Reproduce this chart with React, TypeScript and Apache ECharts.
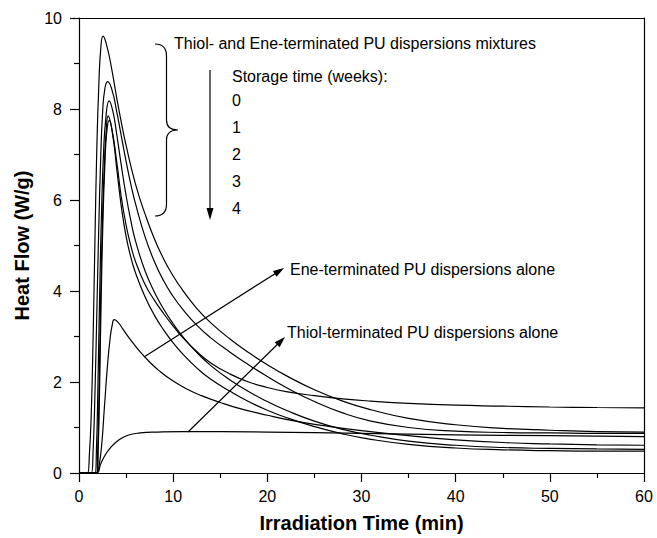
import React, { useEffect, useRef } from "react";
import * as echarts from "echarts";

// Week 0 mixture
const w0X = [0, 0.9, 1.1, 1.3, 1.5, 1.7, 1.9, 2.1, 2.3, 2.55, 3.0, 3.5, 4.0, 4.5, 5.0, 6.0, 7.0, 8.0, 9.0, 10, 11, 12.5, 14, 16, 18, 20, 22, 25, 28, 31, 35, 40, 45, 50, 55, 60];
const w0Y = [0, 0, 0.4, 1.3, 3.0, 5.2, 7.2, 8.5, 9.3, 9.6, 9.35, 8.85, 8.25, 7.7, 7.2, 6.35, 5.7, 5.15, 4.7, 4.33, 4.02, 3.62, 3.3, 2.95, 2.65, 2.38, 2.14, 1.83, 1.58, 1.39, 1.2, 1.06, 0.98, 0.94, 0.91, 0.9];
// Week 1 mixture
const w1X = [0, 1.3, 1.5, 1.7, 1.9, 2.1, 2.3, 2.5, 2.75, 3.05, 3.5, 4.0, 4.5, 5.0, 5.5, 6.0, 7.0, 8.0, 9.0, 10, 11, 12.5, 14, 16, 18, 20, 22, 25, 28, 31, 35, 40, 45, 50, 55, 60];
const w1Y = [0, 0, 0.5, 1.8, 3.6, 5.4, 6.9, 7.9, 8.45, 8.6, 8.42, 7.95, 7.4, 6.85, 6.35, 5.92, 5.2, 4.65, 4.22, 3.88, 3.6, 3.25, 2.97, 2.66, 2.38, 2.12, 1.88, 1.57, 1.32, 1.14, 1.0, 0.92, 0.89, 0.88, 0.87, 0.87];
// Week 2 mixture
const w2X = [0, 1.7, 1.85, 2.0, 2.2, 2.4, 2.6, 2.85, 3.2, 3.6, 4.0, 4.5, 5.0, 5.5, 6.0, 7.0, 8.0, 9.0, 10, 11, 12.5, 14, 16, 18, 20, 22, 25, 28, 31, 35, 40, 45, 50, 55, 60];
const w2Y = [0, 0, 0.5, 1.8, 4.0, 5.8, 7.0, 7.8, 8.18, 7.95, 7.45, 6.75, 6.1, 5.55, 5.1, 4.45, 3.98, 3.6, 3.28, 3.0, 2.65, 2.36, 2.05, 1.79, 1.57, 1.38, 1.14, 0.96, 0.83, 0.7, 0.61, 0.56, 0.54, 0.53, 0.52];
// Week 3 mixture
const w3X = [0, 1.85, 2.0, 2.15, 2.3, 2.5, 2.7, 2.9, 3.1, 3.5, 4.0, 4.5, 5.0, 5.5, 6.0, 7.0, 8.0, 9.0, 10, 11, 12.5, 14, 16, 18, 20, 22, 25, 28, 31, 35, 40, 45, 50, 55, 60];
const w3Y = [0, 0, 0.6, 2.0, 3.8, 5.6, 6.8, 7.55, 7.85, 7.55, 6.85, 6.05, 5.45, 5.0, 4.65, 4.15, 3.8, 3.5, 3.23, 2.98, 2.67, 2.42, 2.18, 2.0, 1.88, 1.79, 1.7, 1.63, 1.58, 1.53, 1.49, 1.47, 1.45, 1.44, 1.43];
// Week 4 mixture
const w4X = [0, 1.9, 2.05, 2.2, 2.35, 2.55, 2.75, 2.95, 3.2, 3.6, 4.0, 4.5, 5.0, 5.5, 6.0, 7.0, 8.0, 9.0, 10, 11, 12.5, 14, 16, 18, 20, 22, 25, 28, 31, 35, 40, 45, 50, 55, 60];
const w4Y = [0, 0, 0.6, 2.0, 3.8, 5.6, 6.8, 7.5, 7.75, 7.4, 6.7, 5.85, 5.2, 4.75, 4.4, 3.88, 3.47, 3.14, 2.86, 2.62, 2.31, 2.06, 1.8, 1.57, 1.38, 1.22, 1.02, 0.86, 0.74, 0.63, 0.55, 0.51, 0.49, 0.48, 0.48];
// Ene-terminated alone
const eneX = [0, 1.9, 2.1, 2.4, 2.7, 3.0, 3.3, 3.55, 3.75, 4.2, 4.7, 5.5, 6.5, 7.5, 8.5, 10, 11.5, 13, 15, 17, 20, 23, 26, 30, 35, 40, 45, 50, 55, 60];
const eneY = [0, 0, 0.12, 0.6, 1.45, 2.3, 2.95, 3.28, 3.37, 3.3, 3.15, 2.92, 2.66, 2.44, 2.25, 2.02, 1.84, 1.7, 1.55, 1.42, 1.27, 1.14, 1.04, 0.93, 0.82, 0.73, 0.67, 0.64, 0.62, 0.61];
// Thiol-terminated alone
const thiolX = [0, 1.84, 2.3, 2.8, 3.4, 4.2, 5.2, 6.5, 8.4, 11, 15, 20, 30, 40, 50, 60];
const thiolY = [0, 0, 0.2, 0.4, 0.57, 0.72, 0.83, 0.88, 0.9, 0.91, 0.91, 0.9, 0.87, 0.84, 0.82, 0.8];

const storageLabels = ["0", "1", "2", "3", "4"];

const FONT = "Liberation Sans";

echarts.graphic.registerShape(
  "brace",
  echarts.graphic.extendPath(
    "M155 44 Q166.5 44 166.5 56 L166.5 120 Q166.5 130 178 130 Q166.5 130 166.5 140 L166.5 204 Q166.5 216 155 216",
    {}
  )
);

function zip(xs: number[], ys: number[]) {
  return xs.map((x, i) => [x, ys[i]]);
}

function arrow(x1: number, y1: number, x2: number, y2: number, len = 11, half = 3.5) {
  const dx = x2 - x1;
  const dy = y2 - y1;
  const L = Math.sqrt(dx * dx + dy * dy);
  const ux = dx / L;
  const uy = dy / L;
  const bx = x2 - ux * len;
  const by = y2 - uy * len;
  const nx = -uy;
  const ny = ux;
  return [
    {
      type: "line",
      shape: { x1, y1, x2: x2 - ux * 4, y2: y2 - uy * 4 },
      style: { stroke: "#000", lineWidth: 1.2 },
    },
    {
      type: "polygon",
      shape: {
        points: [
          [x2, y2],
          [bx + nx * half, by + ny * half],
          [bx - nx * half, by - ny * half],
        ],
      },
      style: { fill: "#000" },
    },
  ];
}

export default function App() {
  const ref = useRef<HTMLDivElement>(null);
  useEffect(() => {
    if (!ref.current) return;
    const chart = echarts.init(ref.current, undefined, { renderer: "svg" });
    const mk = (name: string, xs: number[], ys: number[]) => ({
      name,
      type: "line",
      data: zip(xs, ys),
      smooth: 0.5,
      showSymbol: false,
      symbol: "none",
      clip: true,
      lineStyle: { color: "#000", width: 1.2 },
      xAxisIndex: 0,
      yAxisIndex: 0,
    });
    const txt = (text: string, x: number, y: number) => ({
      type: "text",
      x,
      y,
      style: {
        text,
        fontSize: 16,
        fontFamily: FONT,
        fill: "#000",
        verticalAlign: "middle",
        align: "left",
      },
    });
    const storageTexts = storageLabels.map((s, i) => txt(s, 232, 100 + i * 27));
    chart.setOption({
      animation: false,
      backgroundColor: "#fff",
      grid: { left: 79, right: 13, top: 18, bottom: 65 },
      xAxis: [
        {
          type: "value",
          min: 0,
          max: 60,
          interval: 10,
          position: "bottom",
          name: "Irradiation Time (min)",
          nameLocation: "middle",
          nameGap: 40,
          nameTextStyle: { fontSize: 20, fontWeight: "bold", fontFamily: FONT, color: "#000" },
          axisLine: { show: true, onZero: false, lineStyle: { color: "#000", width: 1.2 } },
          axisTick: { show: true, inside: false, length: 9, lineStyle: { color: "#000", width: 1.2 } },
          minorTick: { show: true, splitNumber: 2, length: 5, lineStyle: { color: "#000", width: 1.2 } },
          axisLabel: { fontSize: 16, fontFamily: FONT, color: "#000", margin: 15 },
          splitLine: { show: false },
        },
        {
          type: "value",
          min: 0,
          max: 60,
          position: "top",
          axisLine: { show: true, onZero: false, lineStyle: { color: "#000", width: 1.2 } },
          axisTick: { show: false },
          axisLabel: { show: false },
          splitLine: { show: false },
        },
      ],
      yAxis: [
        {
          type: "value",
          min: 0,
          max: 10,
          interval: 2,
          position: "left",
          name: "Heat Flow (W/g)",
          nameLocation: "middle",
          nameGap: 47,
          nameTextStyle: { fontSize: 20, fontWeight: "bold", fontFamily: FONT, color: "#000" },
          axisLine: { show: true, onZero: false, lineStyle: { color: "#000", width: 1.2 } },
          axisTick: { show: true, inside: false, length: 9, lineStyle: { color: "#000", width: 1.2 } },
          minorTick: { show: true, splitNumber: 2, length: 5, lineStyle: { color: "#000", width: 1.2 } },
          axisLabel: { fontSize: 16, fontFamily: FONT, color: "#000", margin: 17 },
          splitLine: { show: false },
        },
        {
          type: "value",
          min: 0,
          max: 10,
          position: "right",
          axisLine: { show: true, onZero: false, lineStyle: { color: "#000", width: 1.2 } },
          axisTick: { show: false },
          axisLabel: { show: false },
          splitLine: { show: false },
        },
      ],
      series: [
        mk("Week 0", w0X, w0Y),
        mk("Week 1", w1X, w1Y),
        mk("Week 2", w2X, w2Y),
        mk("Week 3", w3X, w3Y),
        mk("Week 4", w4X, w4Y),
        mk("Ene-terminated PU dispersions alone", eneX, eneY),
        mk("Thiol-terminated PU dispersions alone", thiolX, thiolY),
      ],
      graphic: [
        {
          type: "brace",
          x: 0,
          y: 0,
          style: { stroke: "#000", lineWidth: 1.2, fill: "none" },
        },
        txt("Thiol- and Ene-terminated PU dispersions mixtures", 174, 43),
        txt("Storage time (weeks):", 232, 76),
        ...storageTexts,
        ...arrow(210, 70, 210, 220, 12, 3.5),
        ...arrow(144, 357, 284, 268),
        txt("Ene-terminated PU dispersions alone", 290, 269),
        ...arrow(188, 432, 285, 337),
        txt("Thiol-terminated PU dispersions alone", 287, 332),
      ],
    });
    return () => chart.dispose();
  }, []);
  return (
    <div
      ref={ref}
      style={{ position: "fixed", left: 0, top: 0, width: 657, height: 538, background: "#fff" }}
    />
  );
}
